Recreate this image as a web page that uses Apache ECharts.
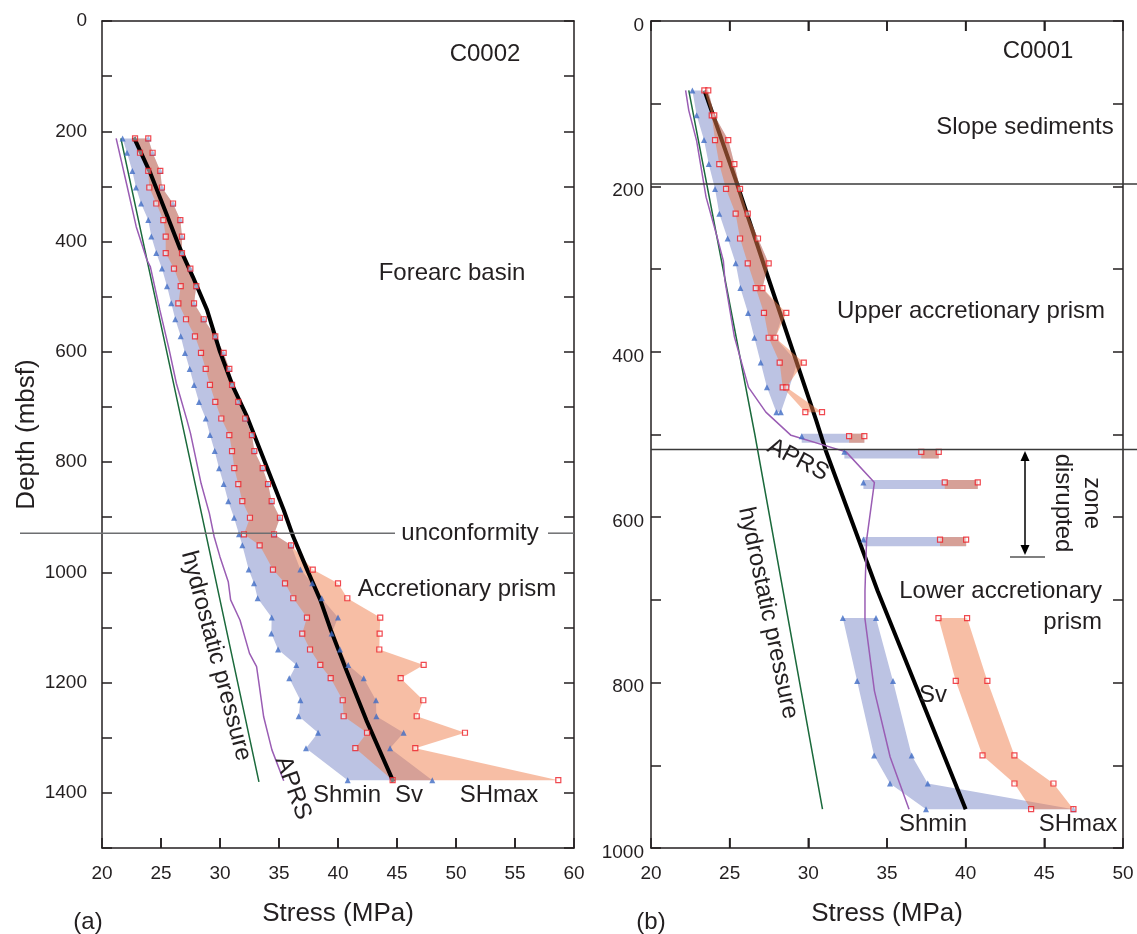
<!DOCTYPE html>
<html><head><meta charset="utf-8">
<script src="https://cdn.jsdelivr.net/npm/echarts@6/dist/echarts.min.js"></script>
<style>html,body{margin:0;padding:0;background:#fff}#c{width:1137px;height:934px}</style>
</head><body><div id="c"></div>
<script>
// ================= Panel (a) : C0002 =================
const aDepth    = [213,239,272,302,331,361,391,421,449,481,512,541,572,602,631,660,691,721,751,780,811,840,871,901,931,951,995,1020,1047,1082,1111,1140,1168,1192,1232,1261,1291,1319,1377];
const aShminLo  = [21.75,22.12,22.57,22.88,23.31,23.92,24.18,24.60,25.08,25.51,25.87,26.21,26.67,27.03,27.43,27.80,28.22,28.79,29.15,29.55,29.92,30.31,30.70,31.19,31.61,31.89,32.43,32.88,33.19,34.38,34.35,34.92,36.47,35.87,36.81,36.67,38.31,37.29,40.82];
const aShminHi  = [23.92,24.29,24.94,25.08,26.02,26.64,26.78,26.78,27.49,27.99,27.80,28.62,29.60,30.31,30.79,31.02,31.55,32.14,32.71,32.91,33.62,34.07,34.38,35.08,34.58,36.02,36.81,37.82,38.62,40.00,39.46,40.17,40.87,42.18,43.22,43.25,45.56,44.41,47.99];
const aSHmaxLo  = [22.80,23.22,23.92,24.01,24.60,25.20,25.40,25.40,26.10,26.67,26.47,27.12,27.88,28.39,28.79,29.15,29.60,30.11,30.79,31.02,31.21,31.55,31.89,32.54,32.03,33.36,34.49,35.51,36.21,37.37,36.97,37.63,38.50,39.38,40.40,40.48,42.46,41.47,44.63];
const aSHmaxHi  = [23.92,24.29,24.94,25.08,26.02,26.64,26.78,26.78,27.49,27.99,27.80,28.62,29.60,30.31,30.79,31.02,31.55,32.14,32.71,32.91,33.62,34.07,34.38,35.08,34.58,36.02,37.86,40.00,40.79,43.58,43.53,43.50,47.26,45.31,47.23,46.67,50.76,46.55,58.67];
const aSvStress = [22.7,24.1,25.5,26.6,27.7,28.9,30.0,31.1,32.3,33.4,34.5,35.4,36.2,37.4,38.5,39.4,40.7,42.4,44.7];
const aSvDepth  = [211,276,352,412,464,524,600,663,718,778,838,887,935,996,1050,1105,1177,1268,1380];
const aHydroStress = [21.6,27.5,33.3];
const aHydroDepth  = [213,800,1380];
const aAprsStress = [21.2,22.1,22.9,23.8,24.1,24.9,25.7,26.3,27.2,27.5,28.4,29.1,29.5,30.0,30.7,30.9,31.7,32.5,33.1,33.3,33.7,34.4,35.4];
const aAprsDepth  = [213,297,373,433,446,524,597,657,724,748,839,893,935,972,1017,1050,1087,1147,1171,1201,1262,1322,1378];
const aUnconformityDepth = 929;
const aBottomTicks = [25,30,35,40,45,50,55];

// ================= Panel (b) : C0001 =================
const bUpShminDepth = [84,114,144,173,203,233,263,293,323,353,383,413,443,473];
const bUpShminLo    = [22.63,22.90,23.37,23.67,24.07,24.34,24.87,25.38,25.68,26.17,26.57,26.97,27.37,27.97];
const bUpShminHi    = [23.64,24.02,24.91,25.30,25.66,26.15,26.80,27.48,27.08,28.40,27.90,29.30,28.80,28.25];
const bUpSHmaxDepth = [84,114,144,173,203,233,263,293,323,353,383,413,443,473];
const bUpSHmaxLo    = [23.39,23.86,24.07,24.34,24.77,25.38,25.66,26.15,26.66,27.18,27.48,28.18,28.37,29.81];
const bUpSHmaxHi    = [23.64,24.02,24.91,25.30,25.66,26.15,26.80,27.48,27.08,28.60,27.90,29.71,28.60,30.87];
const bBarDepth     = [502,521,558,627];
const bBarShmin     = [29.58,32.29,33.50,33.50];
const bBarSHmaxLo   = [32.59,37.18,38.67,38.37];
const bBarSHmaxHi   = [33.56,38.29,40.77,40.03];
const bLowDepth     = [722,798,888,922,953];
const bLowShminLo   = [32.19,33.10,34.18,35.19,37.48];
const bLowShminHi   = [34.30,35.38,36.57,37.59,46.85];
const bLowSHmaxLo   = [38.27,39.37,41.07,43.10,44.16];
const bLowSHmaxHi   = [40.09,41.38,43.10,45.58,46.85];
const bSvStress = [23.4,25.4,27.3,30.5,31.1,34.4,40.0];
const bSvDepth  = [84,193,302,483,519,689,953];
const bHydroStress = [22.4,26.6,30.9];
const bHydroDepth  = [84,500,953];
const bAprsStress = [22.2,22.4,22.9,23.5,24.2,24.6,24.7,25.3,26.2,27.3,28.9,32.4,34.2,33.7,33.6,33.6,34.2,35.2,36.4];
const bAprsDepth  = [84,108,145,213,261,290,314,382,443,473,501,521,558,628,689,723,810,890,953];
const bBoundaryDepths = [197,518];
const bTicks = [25,30,35,40,45];

// ================= styling =================
const FONT = 'Liberation Sans, Arial, Helvetica, sans-serif';
const INK = '#231f20';
const BLUE_BAND = '#bcc3e3';
const SALMON = 'rgba(239,125,75,0.5)';
const TRI = '#3e6cc4';
const SQ = '#ec1c24';
const GREEN = '#1b6a3c';
const PURPLE = '#9a5db4';

const zip = (xs, ys) => xs.map((x, i) => [x, ys[i]]);

function band(xi, yi, depths, lo, hi, color, z) {
  const pts = [];
  for (let i = 0; i < depths.length; i++) pts.push([lo[i], depths[i]]);
  for (let i = depths.length - 1; i >= 0; i--) pts.push([hi[i], depths[i]]);
  return {
    type: 'custom', xAxisIndex: xi, yAxisIndex: yi, z: z, silent: true, animation: false,
    data: pts, encode: { x: 0, y: 1 },
    renderItem: function (params, api) {
      if (params.dataIndex !== 0) return null;
      return { type: 'polygon', shape: { points: pts.map(p => api.coord(p)) }, style: { fill: color } };
    }
  };
}
function barBands(xi, yi, depths, lo, hi, color, z) {
  return depths.map((d, i) => band(xi, yi, [d - 3, d + 8], [lo[i], lo[i]], [hi[i], hi[i]], color, z));
}
// short vertical tick marks drawn from the axis scale as thin filled rectangles
function xTicks(xi, yi, vals, depth, dir) {
  return {
    type: 'custom', xAxisIndex: xi, yAxisIndex: yi, z: 20, silent: true, animation: false, clip: false,
    data: vals.map(v => [v, depth]), encode: { x: 0, y: 1 },
    renderItem: function (params, api) {
      const p = api.coord([api.value(0), api.value(1)]);
      const y0 = dir > 0 ? p[1] : p[1] - 10;
      return { type: 'rect', shape: { x: p[0] - 0.8, y: y0, width: 1.6, height: 10 },
        style: { fill: INK } };
    }
  };
}
function line(xi, yi, xs, ys, color, width, z) {
  return { type: 'line', xAxisIndex: xi, yAxisIndex: yi, data: zip(xs, ys), showSymbol: false, symbol: 'none',
    lineStyle: { color: color, width: width }, z: z, silent: true, animation: false };
}
function tri(xi, yi, pts) {
  return { type: 'scatter', xAxisIndex: xi, yAxisIndex: yi, data: pts, symbol: 'triangle', symbolSize: 6,
    itemStyle: { color: TRI }, z: 10, silent: true, animation: false };
}
function sq(xi, yi, pts) {
  return { type: 'scatter', xAxisIndex: xi, yAxisIndex: yi, data: pts, symbol: 'rect', symbolSize: 5,
    itemStyle: { color: 'rgba(255,255,255,0.6)', borderColor: SQ, borderWidth: 1.2 }, z: 11, silent: true, animation: false };
}

const axLine = () => ({ show: true, onZero: false, lineStyle: { color: INK, width: 1.5 } });
const tickIn = () => ({ show: true, inside: true, length: 10, lineStyle: { color: INK, width: 1.5 } });
const lblStyle = { color: INK, fontSize: 19, fontFamily: FONT };

const chart = echarts.init(document.getElementById('c'), null, { renderer: 'canvas' });

const series = [];
// panel a
series.push(band(0, 0, aDepth, aShminLo, aShminHi, BLUE_BAND, 1));
series.push(band(0, 0, aDepth, aSHmaxLo, aSHmaxHi, SALMON, 2));
series.push(line(0, 0, aHydroStress, aHydroDepth, GREEN, 1.5, 3));
series.push(line(0, 0, aAprsStress, aAprsDepth, PURPLE, 1.5, 3));
series.push(line(0, 0, aSvStress, aSvDepth, '#000', 4, 4));
series.push(tri(0, 0, zip(aShminLo, aDepth).concat(zip(aShminHi, aDepth))));
series.push(sq(0, 0, zip(aSHmaxLo, aDepth).concat(zip(aSHmaxHi, aDepth))));
series.push(xTicks(0, 0, aBottomTicks, 1500, -1));
// panel b
series.push(band(2, 2, bUpShminDepth, bUpShminLo, bUpShminHi, BLUE_BAND, 1));
series.push(band(2, 2, bLowDepth, bLowShminLo, bLowShminHi, BLUE_BAND, 1));
barBands(2, 2, bBarDepth, bBarShmin, bBarSHmaxHi, BLUE_BAND, 1).forEach(s => series.push(s));
series.push(line(2, 2, bHydroStress, bHydroDepth, GREEN, 1.5, 2));
series.push(line(2, 2, bSvStress, bSvDepth, '#000', 4, 2));
series.push(band(2, 2, bUpSHmaxDepth, bUpSHmaxLo, bUpSHmaxHi, SALMON, 3));
series.push(band(2, 2, bLowDepth, bLowSHmaxLo, bLowSHmaxHi, SALMON, 3));
barBands(2, 2, bBarDepth, bBarSHmaxLo, bBarSHmaxHi, SALMON, 3).forEach(s => series.push(s));
series.push(line(2, 2, bAprsStress, bAprsDepth, PURPLE, 1.5, 4));
series.push(tri(2, 2, zip(bUpShminLo, bUpShminDepth).concat([[bUpShminHi[13], bUpShminDepth[13]]])
  .concat(zip(bBarShmin, bBarDepth)).concat(zip(bLowShminLo, bLowDepth)).concat(zip(bLowShminHi, bLowDepth))));
series.push(sq(2, 2, zip(bUpSHmaxLo, bUpSHmaxDepth).concat(zip(bUpSHmaxHi, bUpSHmaxDepth))
  .concat(zip(bBarSHmaxLo, bBarDepth)).concat(zip(bBarSHmaxHi, bBarDepth))
  .concat(zip(bLowSHmaxLo, bLowDepth)).concat(zip(bLowSHmaxHi, bLowDepth))));
series.push(xTicks(2, 2, bTicks, 0, 1));
series.push(xTicks(2, 2, bTicks, 1000, -1));

chart.setOption({
  animation: false,
  backgroundColor: '#fff',
  textStyle: { fontFamily: FONT },
  grid: [
    { left: 102, width: 472, top: 21, height: 827 },
    { left: 651, width: 472, top: 21, height: 827 }
  ],
  xAxis: [
    { gridIndex: 0, type: 'value', min: 20, max: 60, interval: 5, position: 'bottom',
      axisLine: axLine(), axisTick: tickIn(), splitLine: { show: false },
      axisLabel: Object.assign({ margin: 16 }, lblStyle),
      name: 'Stress (MPa)', nameLocation: 'middle', nameGap: 53,
      nameTextStyle: { color: INK, fontSize: 26, fontFamily: FONT } },
    { gridIndex: 0, type: 'value', min: 20, max: 60, interval: 5, position: 'top',
      axisLine: axLine(), axisTick: { show: false }, axisLabel: { show: false }, splitLine: { show: false } },
    { gridIndex: 1, type: 'value', min: 20, max: 50, interval: 5, position: 'bottom',
      axisLine: axLine(), axisTick: tickIn(), splitLine: { show: false },
      axisLabel: Object.assign({ margin: 16 }, lblStyle),
      name: 'Stress (MPa)', nameLocation: 'middle', nameGap: 53,
      nameTextStyle: { color: INK, fontSize: 26, fontFamily: FONT } },
    { gridIndex: 1, type: 'value', min: 20, max: 50, interval: 5, position: 'top',
      axisLine: axLine(), axisTick: tickIn(), axisLabel: { show: false }, splitLine: { show: false } }
  ],
  yAxis: [
    { gridIndex: 0, type: 'value', min: 0, max: 1500, interval: 100, inverse: true, position: 'left',
      axisLine: axLine(), axisTick: tickIn(), splitLine: { show: false },
      axisLabel: Object.assign({ margin: 15, formatter: v => (v % 200 === 0 ? String(v) : '') }, lblStyle),
      name: 'Depth (mbsf)', nameLocation: 'middle', nameGap: 62,
      nameTextStyle: { color: INK, fontSize: 26, fontFamily: FONT } },
    { gridIndex: 0, type: 'value', min: 0, max: 1500, interval: 100, inverse: true, position: 'right',
      axisLine: axLine(), axisTick: tickIn(), axisLabel: { show: false }, splitLine: { show: false } },
    { gridIndex: 1, type: 'value', min: 0, max: 1000, interval: 100, inverse: true, position: 'left',
      axisLine: axLine(), axisTick: tickIn(), splitLine: { show: false },
      axisLabel: Object.assign({ margin: 7, verticalAlign: 'top', lineHeight: 19, padding: [-5, 0, 0, 0],
        formatter: v => (v % 200 === 0 ? String(v) : '') }, lblStyle) },
    { gridIndex: 1, type: 'value', min: 0, max: 1000, interval: 100, inverse: true, position: 'right',
      axisLine: axLine(), axisTick: tickIn(), axisLabel: { show: false }, splitLine: { show: false } }
  ],
  series: series
});

// ---------- annotations ----------
function txt(x, y, text, opt) {
  opt = opt || {};
  return { type: 'text', x: x, y: y, rotation: opt.rot || 0, z: 100, silent: true,
    style: { text: text, fontSize: opt.size || 24, fontFamily: FONT, fill: INK,
      align: opt.align || 'center', verticalAlign: 'middle' } };
}
function hline(x1, x2, y, color) {
  return { type: 'line', z: 50, silent: true, shape: { x1: x1, y1: y, x2: x2, y2: y },
    style: { stroke: color || '#555', lineWidth: 1.5 } };
}
const yA = d => chart.convertToPixel({ xAxisIndex: 0, yAxisIndex: 0 }, [20, d])[1];
const pB = (s, d) => chart.convertToPixel({ xAxisIndex: 2, yAxisIndex: 2 }, [s, d]);

const g = [];
const uy = yA(aUnconformityDepth);
g.push(hline(20, 395, uy, '#6d6e71'));
g.push(hline(548, 574, uy, '#6d6e71'));
bBoundaryDepths.forEach(d => g.push(hline(651, 1137, pB(20, d)[1], '#3a3a3a')));

g.push(txt(485, 54, 'C0002'));
g.push(txt(452, 273, 'Forearc basin'));
g.push(txt(470, 533, 'unconformity'));
g.push(txt(457, 589, 'Accretionary prism'));
g.push(txt(216, 656, 'hydrostatic pressure', { rot: -75 * Math.PI / 180 }));
g.push(txt(293, 788, 'APRS', { rot: -70 * Math.PI / 180 }));
g.push(txt(347, 795, 'Shmin'));
g.push(txt(409, 795, 'Sv'));
g.push(txt(499, 795, 'SHmax'));
g.push(txt(88, 922, '(a)'));

g.push(txt(1038, 51, 'C0001'));
g.push(txt(1025, 127, 'Slope sediments'));
g.push(txt(971, 311, 'Upper accretionary prism'));
g.push(txt(798, 460, 'APRS', { rot: -27.6 * Math.PI / 180 }));
g.push(txt(768, 613, 'hydrostatic pressure', { rot: -78 * Math.PI / 180 }));
g.push(txt(1102, 591, 'Lower accretionary', { align: 'right' }));
g.push(txt(1102, 622, 'prism', { align: 'right' }));
g.push(txt(933, 695, 'Sv'));
g.push(txt(933, 824, 'Shmin'));
g.push(txt(1078, 824, 'SHmax'));
g.push(txt(651, 922, '(b)'));
g.push(txt(1063, 503, 'disrupted', { rot: -Math.PI / 2 }));
g.push(txt(1092, 503, 'zone', { rot: -Math.PI / 2 }));
// double-headed arrow
g.push({ type: 'line', z: 50, silent: true, shape: { x1: 1025, y1: 458, x2: 1025, y2: 548 }, style: { stroke: '#000', lineWidth: 1.5 } });
g.push({ type: 'polygon', z: 50, silent: true, shape: { points: [[1025, 451], [1020.5, 461], [1029.5, 461]] }, style: { fill: '#000' } });
g.push({ type: 'polygon', z: 50, silent: true, shape: { points: [[1025, 555], [1020.5, 545], [1029.5, 545]] }, style: { fill: '#000' } });
g.push({ type: 'line', z: 50, silent: true, shape: { x1: 1010, y1: 557, x2: 1045, y2: 557 }, style: { stroke: '#000', lineWidth: 1.2 } });

chart.setOption({ graphic: { elements: g } });
</script></body></html>
